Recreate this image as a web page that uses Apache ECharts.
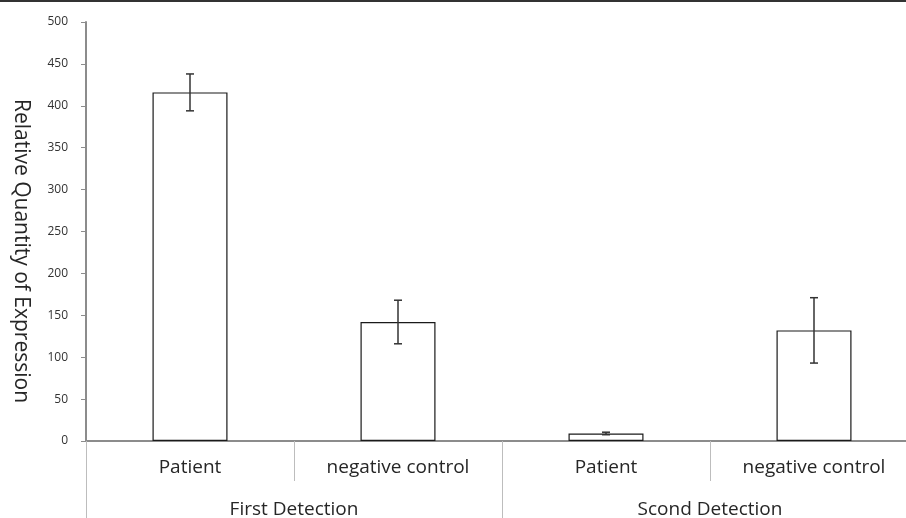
<!DOCTYPE html>
<html>
<head>
<meta charset="utf-8">
<script src="https://cdn.jsdelivr.net/npm/echarts@6/dist/echarts.min.js"></script>
<style>html,body{margin:0;padding:0;background:#fff;}#c{width:906px;height:518px;}</style>
</head>
<body>
<div id="c"></div>
<script>
const categories = ['Patient', 'negative control', 'Patient', 'negative control'];
const groups = ['First Detection', 'Scond Detection'];
const values = [416, 142, 9, 132];
const errors = [22, 26, 1.5, 39];
const yTicks = [0, 500, 50];
const yTitle = 'Relative Quantity of Expression';

const chart = echarts.init(document.getElementById('c'), null, {renderer: 'canvas'});
const font = 'Open Sans, Noto Sans, sans-serif';
const errData = values.map((v, i) => [i, v - errors[i], v + errors[i]]);

chart.setOption({
  animation: false,
  backgroundColor: '#fff',
  grid: {left: 86, top: 22, width: 832, bottom: 77, containLabel: false, outerBoundsMode: 'none'},
  xAxis: [
    {
      type: 'category', data: categories, position: 'bottom',
      axisLine: {show: true, lineStyle: {color: '#8c8c8c', width: 2}},
      axisTick: {show: true, alignWithLabel: false, length: 40, lineStyle: {color: '#bdbdbd', width: 1}},
      axisLabel: {color: '#262626', fontSize: 19, fontFamily: font, margin: 17},
      splitLine: {show: false}
    },
    {
      type: 'category', data: groups, position: 'bottom',
      axisLine: {show: false},
      axisTick: {show: true, alignWithLabel: false, length: 80, lineStyle: {color: '#bdbdbd', width: 1}},
      axisLabel: {color: '#262626', fontSize: 19, fontFamily: font, margin: 59},
      splitLine: {show: false}
    }
  ],
  yAxis: {
    type: 'value', min: yTicks[0], max: yTicks[1], interval: yTicks[2],
    axisLine: {show: true, lineStyle: {color: '#8c8c8c', width: 2}},
    axisTick: {show: true, length: 5, lineStyle: {color: '#8c8c8c', width: 1}},
    axisLabel: {color: '#333', fontSize: 12, fontFamily: font, margin: 18},
    splitLine: {show: false}
  },
  graphic: [
    {type: 'rect', shape: {x: 0, y: 0, width: 906, height: 2}, style: {fill: '#333'}, silent: true},
    {type: 'text', x: 21, y: 251, rotation: -Math.PI / 2,
     style: {text: yTitle, fontSize: 21, fontFamily: font, fill: '#262626', align: 'center', verticalAlign: 'middle'}}
  ],
  series: [
    {
      type: 'bar', data: values, barWidth: 75, xAxisIndex: 0,
      itemStyle: {color: '#fff', borderColor: '#1a1a1a', borderWidth: 1.2}
    },
    {
      type: 'custom', xAxisIndex: 0, data: errData, z: 10,
      renderItem: function (params, api) {
        const x = api.value(0);
        const lo = api.coord([x, api.value(1)]);
        const hi = api.coord([x, api.value(2)]);
        const w = 4;
        const st = {stroke: '#333', lineWidth: 1.5};
        return {type: 'group', children: [
          {type: 'line', shape: {x1: hi[0], y1: hi[1], x2: lo[0], y2: lo[1]}, style: st},
          {type: 'line', shape: {x1: hi[0] - w, y1: hi[1], x2: hi[0] + w, y2: hi[1]}, style: st},
          {type: 'line', shape: {x1: lo[0] - w, y1: lo[1], x2: lo[0] + w, y2: lo[1]}, style: st}
        ]};
      }
    }
  ]
});
</script>
</body>
</html>
